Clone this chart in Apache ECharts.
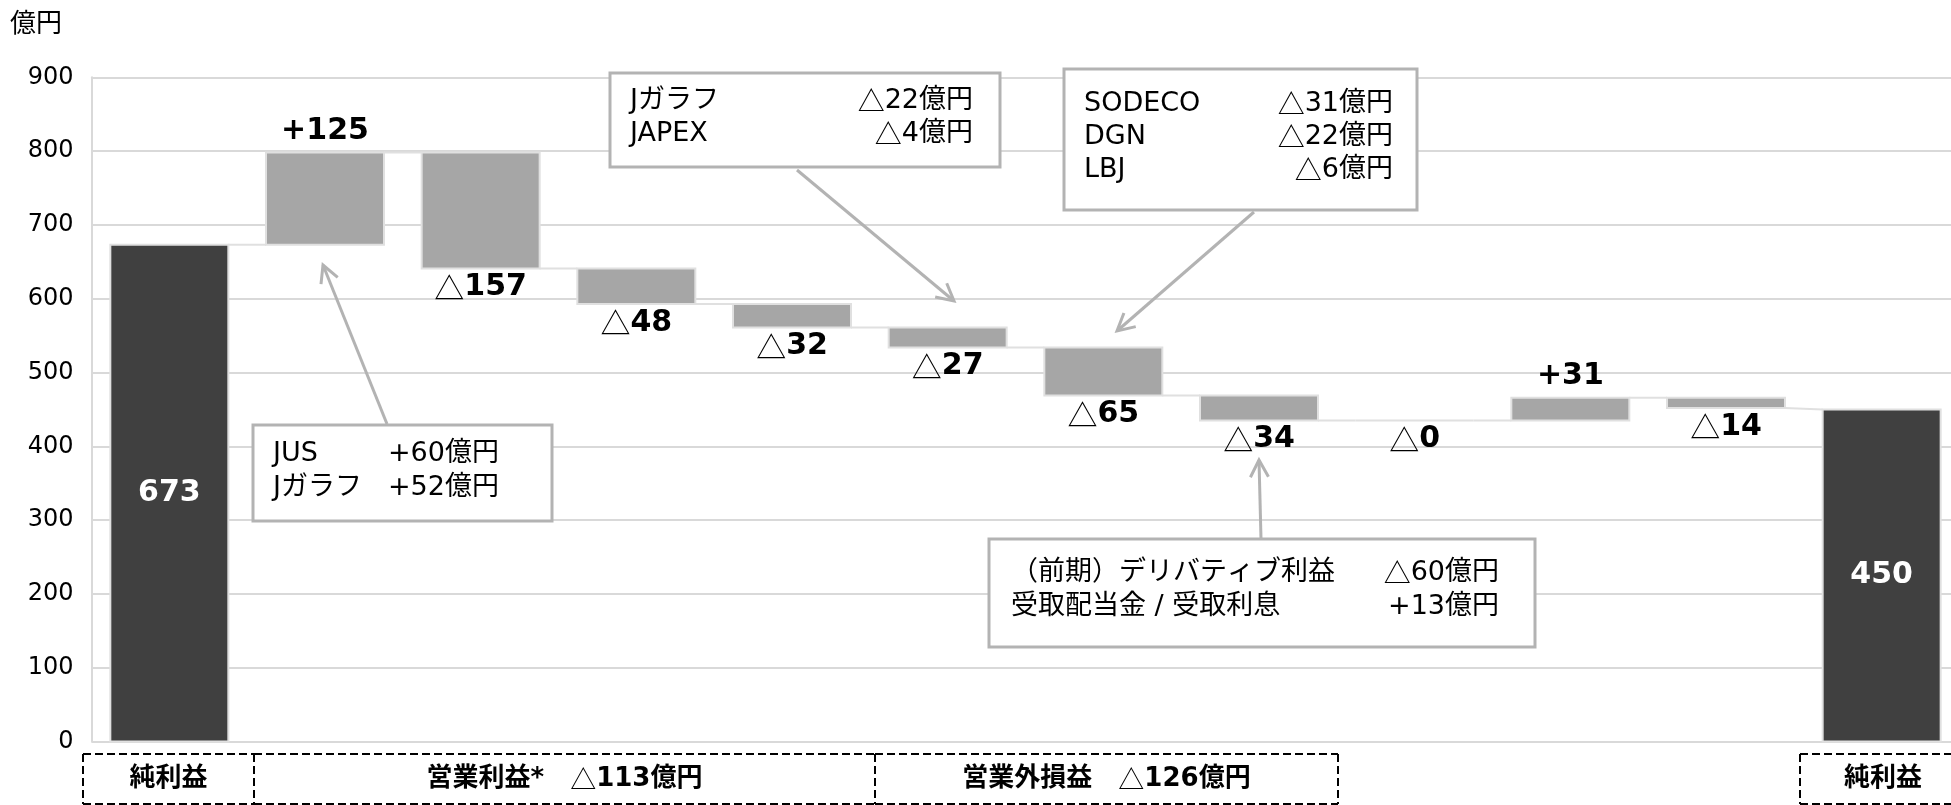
<!DOCTYPE html>
<html><head><meta charset="utf-8">
<style>html,body{margin:0;padding:0;background:#fff;overflow:hidden;width:1951px;height:805px}#c{width:1990px;height:805px}</style>
<script src="https://cdn.jsdelivr.net/npm/echarts@6/dist/echarts.min.js"></script>
</head><body><div id="c"></div>
<script>
// ---- data ----
const categories = ['前期純利益','営業1','営業2','営業3','営業4','営業5','営業外1','営業外2','営業外3','その他1','その他2','当期純利益'];
const startValue = 673;
const deltas = [125, -157, -48, -32, -27, -65, -34, 0, 31, -14];
const endValue = 450;
const valueLabels = ['673','+125','△157','△48','△32','△27','△65','△34','△0','+31','△14','450'];
const yMin = 0, yMax = 900, yInterval = 100;
const unitLabel = '億円';
const groupLabels = ['純利益', '営業利益*　△113億円', '営業外損益　△126億円', '純利益'];
const noteJUS = [['JUS', '+60億円'], ['Jガラフ', '+52億円']];
const noteJAPEX = [['Jガラフ', '△22億円'], ['JAPEX', '△4億円']];
const noteSODECO = [['SODECO', '△31億円'], ['DGN', '△22億円'], ['LBJ', '△6億円']];
const noteDeriv = [['（前期）デリバティブ利益', '△60億円'], ['受取配当金 / 受取利息', '+13億円']];

// ---- build waterfall rows ----
const rows = [];
let run = startValue;
rows.push({value: [0, 0, startValue, startValue, null], kind: 'total'});
deltas.forEach((d, k) => {
  const from = run, to = run + d;
  rows.push({value: [k + 1, Math.min(from, to), Math.max(from, to), to, null], kind: d > 0 ? 'up' : 'down'});
  run = to;
});
rows.push({value: [deltas.length + 1, 0, endValue, null, null], kind: 'total'});
for (let i = 0; i < rows.length - 1; i++) {
  const nxt = rows[i + 1];
  rows[i].value[4] = nxt.kind === 'total' ? nxt.value[2] : rows[i].value[3];
}
rows[rows.length - 1].value[3] = null;
rows.forEach((r, i) => { r.label = valueLabels[i]; });

const LATIN = "'DejaVu Sans','Noto Sans CJK JP',sans-serif";
const CJK = "'Noto Sans CJK JP',sans-serif";
const GRID = {left: 91.5, top: 77.3, width: 1868, height: 664.3};
const BOX_GRAY = '#b3b3b3';
const NOTE_FS = 27;

function richify(s) { return s.replace(/△/g, '{t|△}'); }

function renderItem(params, api) {
  const i = api.value(0), low = api.value(1), high = api.value(2), cFrom = api.value(3), cTo = api.value(4);
  const row = rows[params.dataIndex];
  const band = api.size([1, 0])[0];
  const w = band * 0.758;
  const pLow = api.coord([i, low]), pHigh = api.coord([i, high]);
  const x = pLow[0] - w / 2;
  const fill = row.kind === 'total' ? '#404040' : '#a6a6a6';
  const children = [{
    type: 'rect', shape: {x: x, y: pHigh[1], width: w, height: pLow[1] - pHigh[1]},
    style: {fill: fill, stroke: '#e0e0e0', lineWidth: 2}
  }];
  if (!isNaN(cFrom) && !isNaN(cTo)) {
    const a = api.coord([i, cFrom]), b = api.coord([i + 1, cTo]);
    children.push({type: 'line', shape: {x1: a[0] + w / 2, y1: a[1], x2: b[0] - w / 2, y2: b[1]},
      style: {stroke: '#e0e0e0', lineWidth: 2}});
  }
  let ty, va, color = '#000';
  if (row.kind === 'up') { ty = pHigh[1] - 4; va = 'bottom'; }
  else if (row.kind === 'down') { ty = pLow[1] + 2; va = 'top'; }
  else { ty = (pLow[1] + pHigh[1]) / 2; va = 'middle'; color = '#fff'; }
  children.push({
    type: 'text', z2: 10,
    style: {
      text: richify(row.label), x: pLow[0], y: ty, align: 'center', verticalAlign: va,
      fill: color, font: "bold 30px " + LATIN, lineHeight: 34,
      rich: {t: {fontFamily: CJK, fontWeight: 'normal', fontSize: 30, fill: color, lineHeight: 34}}
    }
  });
  return {type: 'group', children: children};
}

// ---- annotations (layout in pixels) ----
function noteBox(rect, lines, textX, valueX, rowY, valueAlign) {
  const els = [{type: 'rect', shape: {x: rect[0], y: rect[1], width: rect[2] - rect[0], height: rect[3] - rect[1]},
    style: {fill: '#fff', stroke: BOX_GRAY, lineWidth: 3}, z: 20}];
  lines.forEach((ln, k) => {
    els.push({type: 'text', z: 21, style: {text: richify(ln[0]), x: textX, y: rowY[k], align: 'left', verticalAlign: 'middle',
      font: NOTE_FS + "px " + LATIN, fill: '#000', rich: {t: {fontFamily: CJK, fontSize: NOTE_FS}}}});
    els.push({type: 'text', z: 21, style: {text: richify(ln[1]), x: valueX, y: rowY[k], align: valueAlign, verticalAlign: 'middle',
      font: NOTE_FS + "px " + LATIN, fill: '#000', rich: {t: {fontFamily: CJK, fontSize: NOTE_FS}}}});
  });
  return els;
}
function arrow(x1, y1, x2, y2) {
  const dx = x2 - x1, dy = y2 - y1, L = Math.hypot(dx, dy);
  const ux = dx / L, uy = dy / L, px = -uy, py = ux, len = 17, half = 9;
  return [
    {type: 'line', z: 19, shape: {x1: x1, y1: y1, x2: x2, y2: y2}, style: {stroke: BOX_GRAY, lineWidth: 3}},
    {type: 'polyline', z: 19, shape: {points: [[x2 - ux * len + px * half, y2 - uy * len + py * half], [x2, y2], [x2 - ux * len - px * half, y2 - uy * len - py * half]]},
      style: {stroke: BOX_GRAY, lineWidth: 3, fill: null}}
  ];
}
const dashStyle = {stroke: '#000', lineWidth: 2, lineDash: [8, 4], fill: null};
function dline(x1, y1, x2, y2) { return {type: 'line', z: 20, shape: {x1: x1, y1: y1, x2: x2, y2: y2}, style: dashStyle}; }
function groupBox(x0, x1, label, drawRight) {
  const top = 754, bot = 804;
  const els = [dline(x0, top, x1, top), dline(x0, bot, x1, bot), dline(x0, top, x0, bot)];
  if (drawRight) els.push(dline(x1, top, x1, bot));
  els.push({type: 'text', z: 21, style: {text: richify(label), x: (x0 + x1) / 2, y: 779, align: 'center', verticalAlign: 'middle',
    font: "bold 26px " + LATIN, fill: '#000', rich: {t: {fontFamily: CJK, fontWeight: 'normal', fontSize: 26}}}});
  return els;
}

const graphics = [].concat(
  [{type: 'text', style: {text: unitLabel, x: 10, y: 9, font: "26px " + CJK, fill: '#000'}}],
  noteBox([253, 425, 552, 521], noteJUS, 273, 388, [454, 488], 'left'),
  arrow(387, 424, 323, 265),
  noteBox([610, 73, 1000, 167], noteJAPEX, 630, 973, [101, 134], 'right'),
  arrow(797, 170, 954, 301),
  noteBox([1064, 69, 1417, 210], noteSODECO, 1084, 1393, [104, 137, 170], 'right'),
  arrow(1254, 212, 1117, 331),
  noteBox([989, 539, 1535, 647], noteDeriv, 1011, 1499, [573, 607], 'right'),
  arrow(1261, 539, 1259, 460),
  groupBox(83, 254, groupLabels[0], false),
  groupBox(254, 875, groupLabels[1], false),
  groupBox(875, 1338, groupLabels[2], true),
  groupBox(1800, 1966, groupLabels[3], true)
);

const chart = echarts.init(document.getElementById('c'), null, {renderer: 'canvas'});
chart.setOption({
  animation: false,
  backgroundColor: '#fff',
  grid: GRID,
  xAxis: {type: 'category', data: categories, boundaryGap: true,
    axisLine: {show: false}, axisTick: {show: false}, axisLabel: {show: false}, splitLine: {show: false}},
  yAxis: {type: 'value', min: yMin, max: yMax, interval: yInterval,
    axisLine: {show: true, lineStyle: {color: '#d9d9d9', width: 2}}, axisTick: {show: false},
    axisLabel: {margin: 18, fontFamily: 'DejaVu Sans', fontSize: 24, color: '#000'},
    splitLine: {lineStyle: {color: '#d9d9d9', width: 2}}},
  series: [{type: 'custom', renderItem: renderItem, data: rows, clip: false}],
  graphic: graphics
});
</script></body></html>
